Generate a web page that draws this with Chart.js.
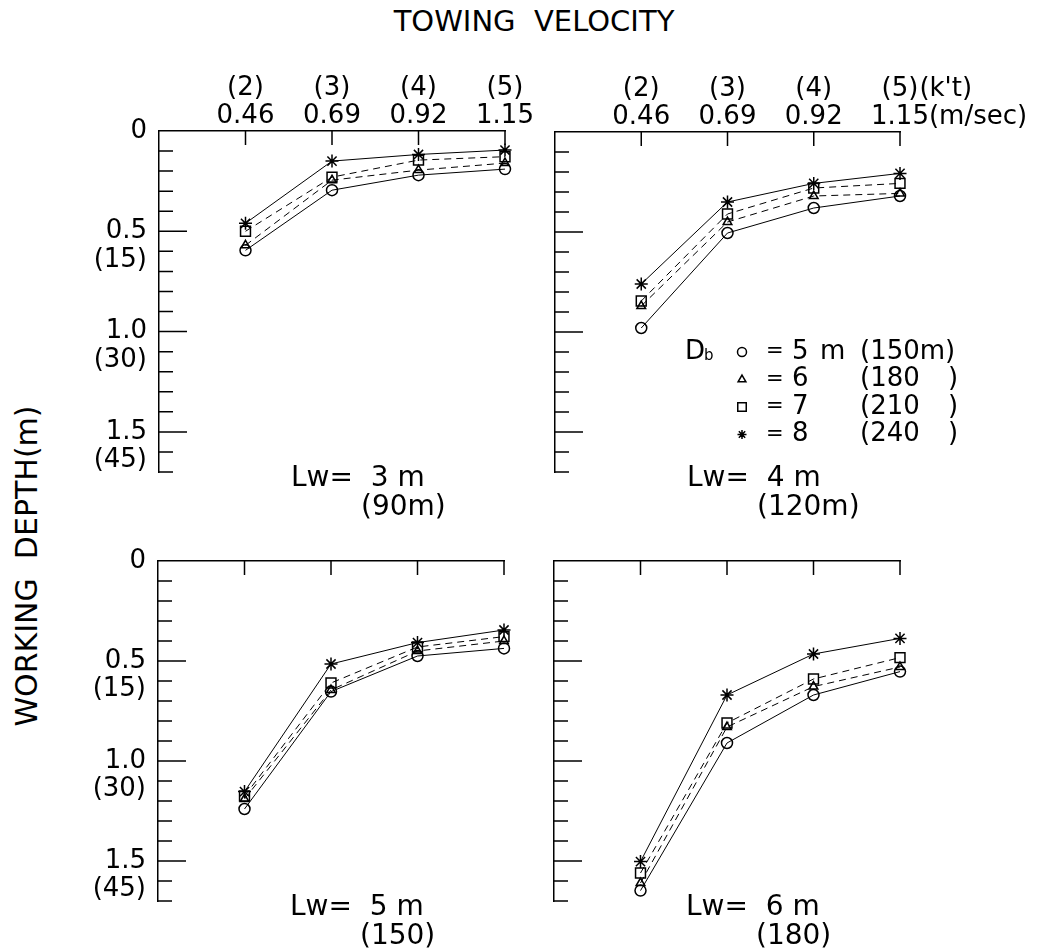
<!DOCTYPE html>
<html>
<head>
<meta charset="utf-8">
<title>Towing velocity vs working depth</title>
<script src="https://cdn.jsdelivr.net/npm/chart.js@4.4.1/dist/chart.umd.min.js"></script>
<style>
  body { margin: 0; background: #fff; }
  #wrap { position: relative; width: 1055px; height: 951px; overflow: hidden; }
  #wrap canvas { position: absolute; left: 0; top: 0; }
  .lbl { position: absolute; font-family: 'DejaVu Sans', sans-serif; color: #000; line-height: 1; white-space: pre; }
  #title { left: 534px; top: 7px; font-size: 29px; transform: translateX(-50%); }
  #ylabel { left: 27px; top: 566px; font-size: 30px; transform: translate(-50%, -50%) rotate(-90deg); }
</style>
</head>
<body>
<div id="wrap">
  <div id="title" class="lbl">TOWING  VELOCITY</div>
  <div id="ylabel" class="lbl">WORKING  DEPTH(m)</div>
  <canvas id="tl" width="1055" height="951"></canvas>
  <canvas id="tr" width="1055" height="951"></canvas>
  <canvas id="bl" width="1055" height="951"></canvas>
  <canvas id="br" width="1055" height="951"></canvas>
</div>
<script>
// towing velocity (m/sec) and knots
var velocity = [0.46, 0.69, 0.92, 1.15];
var knots = ['(2)', '(3)', '(4)', '(5)'];

// working depth (m), one array per warp length Lw and float spacing Db
var lw3_db5 = [0.595, 0.295, 0.22, 0.19];
var lw3_db6 = [0.57, 0.245, 0.195, 0.16];
var lw3_db7 = [0.50, 0.23, 0.145, 0.128];
var lw3_db8 = [0.46, 0.15, 0.117, 0.095];

var lw4_db5 = [0.98, 0.505, 0.38, 0.32];
var lw4_db6 = [0.87, 0.45, 0.32, 0.307];
var lw4_db7 = [0.845, 0.41, 0.28, 0.257];
var lw4_db8 = [0.76, 0.35, 0.257, 0.207];

var lw5_db5 = [1.24, 0.653, 0.475, 0.437];
var lw5_db6 = [1.19, 0.645, 0.45, 0.40];
var lw5_db7 = [1.175, 0.61, 0.43, 0.378];
var lw5_db8 = [1.153, 0.515, 0.408, 0.345];

var lw6_db5 = [1.648, 0.91, 0.67, 0.553];
var lw6_db6 = [1.61, 0.83, 0.628, 0.53];
var lw6_db7 = [1.56, 0.81, 0.59, 0.483];
var lw6_db8 = [1.503, 0.67, 0.465, 0.387];

// depth axis
var depthTicks = [0, 0.5, 1.0, 1.5];
var depthLabels = [['0'], ['', '0.5', '(15)'], ['', '1.0', '(30)'], ['', '1.5', '(45)']];
var depthMinor = [0.1, 0.2, 0.3, 0.4, 0.6, 0.7, 0.8, 0.9, 1.1, 1.2, 1.3, 1.4, 1.6, 1.7];
var depthMajor = [0.5, 1.0, 1.5];

var legendDb = ['5', '6', '7', '8'];
var legendFt = ['(150m)', '(180', '(210', '(240'];

var FONT = "'DejaVu Sans', sans-serif";
var W = 1055, H = 951, AXIS = 100;

var seriesStyle = [
    { label: 'Db = 5 m', pointStyle: 'circle', radius: 5.5, dash: [] },
    { label: 'Db = 6', pointStyle: 'triangle', radius: 5, dash: [7, 5] },
    { label: 'Db = 7', pointStyle: 'rect', radius: 7, dash: [7, 5] },
    { label: 'Db = 8', pointStyle: 'star', radius: 6.5, dash: [] }
];

// ticks on the inside of the frame
var insideTicks = {
    id: 'insideTicks',
    afterDraw: function(chart) {
        var ctx = chart.ctx, a = chart.chartArea, x = chart.scales.x, y = chart.scales.y;
        ctx.save();
        ctx.strokeStyle = '#000';
        ctx.lineWidth = 1.5;
        ctx.beginPath();
        velocity.forEach(function(v) {
            var px = x.getPixelForValue(v);
            ctx.moveTo(px, a.top);
            ctx.lineTo(px, a.top + 14);
        });
        depthMinor.forEach(function(v) {
            var py = y.getPixelForValue(v);
            ctx.moveTo(a.left, py);
            ctx.lineTo(a.left + 14, py);
        });
        depthMajor.forEach(function(v) {
            var py = y.getPixelForValue(v);
            ctx.moveTo(a.left, py);
            ctx.lineTo(a.left + 28, py);
        });
        ctx.stroke();
        ctx.restore();
    }
};

// Lw caption under each panel, units and legend on the upper right one
var panelNote = {
    id: 'panelNote',
    afterDraw: function(chart, args, opts) {
        var ctx = chart.ctx, a = chart.chartArea;
        ctx.save();
        ctx.fillStyle = '#000';
        ctx.textBaseline = 'middle';
        ctx.textAlign = 'left';
        ctx.font = '28px ' + FONT;
        if (opts.note) {
            ctx.fillText(opts.note[0], a.left + 132, a.bottom + 7);
            ctx.fillText(opts.note[1], a.left + 202, a.bottom + 36);
        }
        if (opts.units) {
            var lh = 26 * 1.1;
            var px = chart.scales.x.getPixelForValue(velocity[velocity.length - 1]);
            ctx.font = '26px ' + FONT;
            var w1 = ctx.measureText(knots[knots.length - 1]).width;
            var w2 = ctx.measureText(velocity[velocity.length - 1].toFixed(2)).width;
            ctx.fillText("(k't)", px + w1 / 2 + 1, a.top - 1.5 * lh);
            ctx.fillText('(m/sec)', px + w2 / 2, a.top - 0.5 * lh);
        }
        if (opts.legend) {
            var x0 = a.left, y0 = a.top + 220, dy = 27.5;
            ctx.font = '26px ' + FONT;
            ctx.fillText('D', x0 + 130, y0);
            ctx.font = '15px ' + FONT;
            ctx.fillText('b', x0 + 149, y0 + 4);
            seriesStyle.forEach(function(s, i) {
                var yy = y0 + i * dy;
                ctx.save();
                ctx.strokeStyle = '#000';
                ctx.fillStyle = 'rgba(0,0,0,0)';
                Chart.helpers.drawPoint(ctx, {
                    pointStyle: s.pointStyle, radius: s.pointStyle === 'rect' ? 6 : 4.5,
                    borderWidth: 1.3, rotation: 0
                }, x0 + 187, yy);
                ctx.restore();
                ctx.font = '21px ' + FONT;
                ctx.fillText('=', x0 + 211, yy);
                ctx.font = '26px ' + FONT;
                ctx.fillText(legendDb[i], x0 + 237, yy);
                if (i === 0) ctx.fillText('m', x0 + 265, yy);
                ctx.fillText(legendFt[i], x0 + 305, yy);
                if (i > 0) ctx.fillText(')', x0 + 393, yy);
            });
        }
        ctx.restore();
    }
};

function makePanel(id, area, series, opts) {
    var datasets = series.map(function(vals, k) {
        var s = seriesStyle[k];
        return {
            label: s.label,
            data: velocity.map(function(v, i) { return { x: v, y: vals[i] }; }),
            borderColor: '#000',
            borderWidth: 1,
            borderDash: s.dash,
            pointStyle: s.pointStyle,
            pointRadius: s.radius,
            pointBorderColor: '#000',
            pointBackgroundColor: 'rgba(0,0,0,0)',
            pointBorderWidth: 1.5,
            tension: 0,
            clip: false
        };
    });

    return new Chart(document.getElementById(id).getContext('2d'), {
        type: 'line',
        data: { datasets: datasets },
        options: {
            responsive: false,
            animation: false,
            events: [],
            layout: {
                padding: { left: area.l - AXIS, top: area.t - AXIS, right: W - area.r, bottom: H - area.b }
            },
            plugins: {
                legend: { display: false },
                tooltip: { enabled: false },
                panelNote: { note: opts.note, units: !!opts.units, legend: !!opts.legend }
            },
            scales: {
                x: {
                    type: 'linear',
                    position: 'top',
                    min: 0.23,
                    max: 1.15,
                    afterBuildTicks: function(s) { s.ticks = velocity.map(function(v) { return { value: v }; }); },
                    afterFit: function(s) { s.height = AXIS; },
                    grid: { display: false, drawTicks: false },
                    border: { display: true, color: '#000', width: 1.5 },
                    ticks: {
                        display: opts.showX,
                        padding: 0,
                        color: '#000',
                        maxRotation: 0,
                        autoSkip: false,
                        font: { family: FONT, size: 26, lineHeight: 1.1 },
                        callback: function(v, i) { return [knots[i], velocity[i].toFixed(2)]; }
                    }
                },
                y: {
                    type: 'linear',
                    position: 'left',
                    reverse: true,
                    min: 0,
                    max: 1.7,
                    afterBuildTicks: function(s) { s.ticks = depthTicks.map(function(v) { return { value: v }; }); },
                    afterFit: function(s) { s.width = AXIS; },
                    grid: { display: false, drawTicks: false },
                    border: { display: true, color: '#000', width: 1.5 },
                    ticks: {
                        display: opts.showY,
                        padding: 12,
                        color: '#000',
                        autoSkip: false,
                        font: { family: FONT, size: 26, lineHeight: 1.1 },
                        callback: function(v, i) { return depthLabels[i]; }
                    }
                }
            }
        },
        plugins: [insideTicks, panelNote]
    });
}

makePanel('tl', { l: 159, t: 131, r: 505, b: 472 }, [lw3_db5, lw3_db6, lw3_db7, lw3_db8],
    { showX: true, showY: true, note: ['Lw=  3 m', '(90m)'] });
makePanel('tr', { l: 555, t: 132, r: 900, b: 472 }, [lw4_db5, lw4_db6, lw4_db7, lw4_db8],
    { showX: true, showY: false, note: ['Lw=  4 m', '(120m)'], units: true, legend: true });
makePanel('bl', { l: 158, t: 561, r: 504, b: 901 }, [lw5_db5, lw5_db6, lw5_db7, lw5_db8],
    { showX: false, showY: true, note: ['Lw=  5 m', '(150)'] });
makePanel('br', { l: 554, t: 561, r: 900, b: 901 }, [lw6_db5, lw6_db6, lw6_db7, lw6_db8],
    { showX: false, showY: false, note: ['Lw=  6 m', '(180)'] });
</script>
</body>
</html>
